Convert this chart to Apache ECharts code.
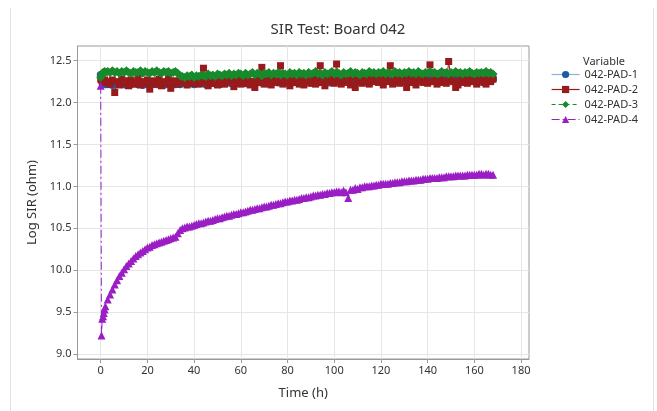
<!DOCTYPE html>
<html>
<head>
<meta charset="utf-8">
<script src="https://cdn.jsdelivr.net/npm/echarts@6/dist/echarts.min.js"></script>
<style>html,body{margin:0;padding:0;background:#fff;}#chart{width:657px;height:411px;}</style>
</head>
<body>
<div id="chart"></div>
<script>
var timesH = [0,0.33,0.67,1,1.33,1.67,2,
3,4,5,6,7,8,9,10,11,12,
13,14,15,16,17,18,19,20,21,22,
23,24,25,26,27,28,29,30,31,32,
33,34,35,36,37,38,39,40,41,42,
43,44,45,46,47,48,49,50,51,52,
53,54,55,56,57,58,59,60,61,62,
63,64,65,66,67,68,69,70,71,72,
73,74,75,76,77,78,79,80,81,82,
83,84,85,86,87,88,89,90,91,92,
93,94,95,96,97,98,99,100,101,102,
103,104,105,106,107,108,109,110,111,112,
113,114,115,116,117,118,119,120,121,122,
123,124,125,126,127,128,129,130,131,132,
133,134,135,136,137,138,139,140,141,142,
143,144,145,146,147,148,149,150,151,152,
153,154,155,156,157,158,159,160,161,162,
163,164,165,166,167,168];

var pad1 = [12.33,12.30,12.26,12.24,12.23,12.23,12.22,
12.22,12.23,12.21,12.23,12.22,12.24,12.22,12.23,12.21,12.23,
12.22,12.24,12.23,12.22,12.23,12.21,12.23,12.22,12.24,12.22,
12.23,12.22,12.24,12.23,12.21,12.23,12.22,12.24,12.23,12.22,
12.23,12.22,12.24,12.23,12.22,12.24,12.23,12.22,12.24,12.23,
12.24,12.23,12.22,12.24,12.23,12.25,12.23,12.24,12.22,12.24,
12.23,12.25,12.24,12.23,12.25,12.24,12.23,12.25,12.24,12.23,
12.25,12.24,12.23,12.25,12.24,12.26,12.24,12.25,12.23,12.25,
12.24,12.26,12.25,12.24,12.26,12.25,12.24,12.26,12.25,12.24,
12.26,12.25,12.24,12.26,12.25,12.27,12.25,12.24,12.26,12.25,
12.24,12.26,12.25,12.27,12.25,12.24,12.26,12.25,12.27,12.25,
12.26,12.25,12.27,12.26,12.25,12.27,12.26,12.25,12.27,12.26,
12.25,12.27,12.26,12.25,12.27,12.26,12.28,12.26,12.25,12.27,
12.26,12.28,12.26,12.25,12.27,12.26,12.28,12.27,12.26,12.28,
12.27,12.26,12.28,12.27,12.26,12.28,12.27,12.26,12.28,12.27,
12.26,12.28,12.27,12.29,12.27,12.26,12.28,12.27,12.29,12.27,
12.26,12.28,12.27,12.29,12.27,12.28,12.26,12.28,12.27,12.29,
12.27,12.28,12.26,12.28,12.27,12.28];

var pad2 = [12.28,12.27,12.25,12.26,12.24,12.27,12.25,
12.24,12.22,12.27,12.12,12.25,12.21,12.28,12.23,12.26,12.20,
12.27,12.24,12.22,12.29,12.21,12.25,12.23,12.27,12.16,12.24,
12.26,12.22,12.28,12.20,12.25,12.23,12.29,12.17,12.24,12.26,
12.22,12.27,12.30,12.24,12.21,12.28,12.25,12.23,12.29,12.22,
12.26,12.41,12.24,12.20,12.28,12.23,12.26,12.21,12.29,12.24,
12.22,12.27,12.25,12.30,12.19,12.24,12.28,12.22,12.26,12.23,
12.29,12.21,12.25,12.18,12.27,12.24,12.42,12.22,12.28,12.25,
12.21,12.29,12.24,12.26,12.44,12.22,12.27,12.25,12.20,12.28,
12.24,12.30,12.22,12.26,12.21,12.28,12.25,12.23,12.29,12.22,
12.27,12.44,12.24,12.20,12.28,12.25,12.31,12.23,12.46,12.26,
12.22,12.29,12.24,12.27,12.21,12.30,12.18,12.25,12.28,12.23,
12.26,12.31,12.22,12.28,12.25,12.33,12.24,12.27,12.21,12.29,
12.25,12.44,12.22,12.30,12.26,12.23,12.28,12.25,12.18,12.32,
12.24,12.27,12.21,12.30,12.26,12.24,12.28,12.23,12.45,12.25,
12.31,12.22,12.27,12.24,12.26,12.23,12.49,12.28,12.25,12.18,
12.21,12.28,12.24,12.30,12.23,12.27,12.25,12.32,12.22,12.26,
12.29,12.24,12.22,12.27,12.25,12.28];

var pad3 = [12.30,12.33,12.35,12.36,12.36,12.37,12.36,
12.37,12.36,12.38,12.36,12.37,12.35,12.37,12.36,12.38,12.36,
12.35,12.37,12.36,12.36,12.38,12.35,12.37,12.36,12.35,12.37,
12.36,12.38,12.36,12.35,12.37,12.36,12.37,12.35,12.36,12.37,
12.35,12.32,12.31,12.30,12.32,12.31,12.33,12.30,12.32,12.31,
12.33,12.32,12.31,12.34,12.32,12.33,12.31,12.34,12.33,12.32,
12.34,12.33,12.35,12.32,12.34,12.33,12.35,12.34,12.32,12.35,
12.33,12.34,12.36,12.33,12.35,12.34,12.32,12.35,12.34,12.36,
12.33,12.35,12.34,12.36,12.33,12.35,12.34,12.33,12.36,12.34,
12.35,12.33,12.36,12.34,12.35,12.33,12.36,12.34,12.35,12.37,
12.34,12.35,12.33,12.36,12.34,12.35,12.37,12.34,12.36,12.35,
12.33,12.36,12.34,12.35,12.37,12.34,12.36,12.35,12.33,12.36,
12.35,12.34,12.37,12.35,12.36,12.34,12.36,12.35,12.37,12.34,
12.36,12.35,12.34,12.37,12.35,12.36,12.34,12.36,12.35,12.37,
12.35,12.36,12.34,12.37,12.35,12.34,12.36,12.35,12.37,12.35,
12.36,12.34,12.35,12.37,12.35,12.36,12.34,12.36,12.35,12.37,
12.35,12.36,12.34,12.36,12.35,12.37,12.35,12.34,12.36,12.35,
12.36,12.35,12.37,12.35,12.36,12.34];

var pad4 = [12.20,9.22,9.42,9.45,9.49,9.53,9.57,
9.65,9.71,9.77,9.83,9.88,9.93,9.97,10.01,10.05,10.08,
10.11,10.14,10.17,10.19,10.21,10.23,10.25,10.27,10.28,10.30,
10.31,10.32,10.33,10.34,10.35,10.36,10.37,10.38,10.39,10.40,
10.44,10.48,10.50,10.51,10.52,10.52,10.53,10.54,10.55,10.56,
10.56,10.57,10.58,10.59,10.59,10.60,10.61,10.62,10.62,10.63,
10.64,10.65,10.65,10.66,10.67,10.67,10.68,10.69,10.69,10.70,
10.71,10.72,10.72,10.73,10.74,10.74,10.75,10.76,10.76,10.77,
10.78,10.78,10.79,10.80,10.80,10.81,10.82,10.82,10.83,10.83,
10.84,10.84,10.85,10.86,10.86,10.87,10.87,10.88,10.89,10.89,
10.90,10.90,10.91,10.91,10.92,10.92,10.93,10.93,10.94,10.94,
10.93,10.95,10.93,10.86,10.96,10.96,10.98,10.97,10.99,10.99,
11.00,11.00,11.00,11.01,11.01,11.02,11.02,11.03,11.03,11.03,
11.03,11.04,11.04,11.05,11.05,11.05,11.06,11.06,11.06,11.07,
11.07,11.07,11.08,11.08,11.08,11.09,11.09,11.09,11.10,11.10,
11.10,11.10,11.11,11.11,11.11,11.12,11.12,11.12,11.12,11.13,
11.13,11.13,11.13,11.13,11.14,11.14,11.14,11.14,11.14,11.15,
11.15,11.14,11.15,11.15,11.14,11.14];

var xTicks = [0,20,40,60,80,100,120,140,160,180];
var yTicks = [9.0,9.5,10.0,10.5,11.0,11.5,12.0,12.5];
var seriesNames = ['042-PAD-1','042-PAD-2','042-PAD-3','042-PAD-4'];
var markerColors = ['#1f5aa6','#981a1a','#188a2c','#9a1ec4'];
var lineColors = ['#8fb1db','#981a1a','#188a2c','#9a1ec4'];

function pairs(vals){ return timesH.map(function(t,i){ return [t, vals[i]]; }); }

var FONT = 'Noto Sans';
var chart = echarts.init(document.getElementById('chart'), null, {renderer:'canvas'});
chart.setOption({
  animation: false,
  backgroundColor: '#ffffff',
  textStyle: {fontFamily: FONT},
  title: [
    {text: 'SIR Test: Board 042', left: 333, top: 17, textAlign: 'center',
     textStyle: {fontFamily: FONT, fontSize: 15, fontWeight: 'normal', color: '#333333'}},
    {text: 'Variable', left: 599, top: 51, textAlign: 'center',
     textStyle: {fontFamily: FONT, fontSize: 11, fontWeight: 'normal', color: '#333333'}}
  ],
  legend: {
    orient: 'vertical', left: 546, top: 64,
    itemWidth: 28, itemHeight: 9, itemGap: 4,
    lineStyle: {width: 1.2},
    textStyle: {fontFamily: FONT, fontSize: 11, color: '#333333'},
    data: seriesNames
  },
  graphic: [
    {type: 'line', shape: {x1: 10.5, y1: 8, x2: 10.5, y2: 411}, style: {stroke: '#e2e2e2', lineWidth: 1}, silent: true},
    {type: 'line', shape: {x1: 653.5, y1: 8, x2: 653.5, y2: 411}, style: {stroke: '#e2e2e2', lineWidth: 1}, silent: true}
  ],
  grid: {left: 77.5, right: 128, top: 46, bottom: 52, show: true, borderColor: '#9a9a9a', borderWidth: 1, backgroundColor: 'transparent'},
  xAxis: {
    type: 'value', min: -9.94, max: 183.4,
    name: 'Time (h)', nameLocation: 'middle', nameGap: 28,
    nameTextStyle: {fontFamily: FONT, fontSize: 13, color: '#333333'},
    axisLine: {show: true, onZero: false, lineStyle: {color: '#9a9a9a'}},
    axisTick: {show: true, length: 4, customValues: xTicks, lineStyle: {color: '#9a9a9a'}},
    axisLabel: {customValues: xTicks, fontFamily: FONT, fontSize: 11, color: '#333333', margin: 6},
    splitLine: {show: true, lineStyle: {color: '#e6e6e6'}}
  },
  yAxis: {
    type: 'value', min: 8.94, max: 12.675,
    name: 'Log SIR (ohm)', nameLocation: 'middle', nameGap: 33,
    nameTextStyle: {fontFamily: FONT, fontSize: 13, color: '#333333'},
    axisLine: {show: true, onZero: false, lineStyle: {color: '#9a9a9a'}},
    axisTick: {show: true, length: 4, customValues: yTicks, lineStyle: {color: '#9a9a9a'}},
    axisLabel: {customValues: yTicks, fontFamily: FONT, fontSize: 11, color: '#333333', margin: 6,
      formatter: function(v){ return v.toFixed(1); }},
    splitLine: {show: true, lineStyle: {color: '#e6e6e6'}}
  },
  series: [
    {name: seriesNames[0], type: 'line', data: pairs(pad1), symbol: 'circle', symbolSize: 8,
     itemStyle: {color: markerColors[0]}, lineStyle: {color: lineColors[0], width: 1.5, type: 'solid'}},
    {name: seriesNames[1], type: 'line', data: pairs(pad2), symbol: 'rect', symbolSize: 7,
     itemStyle: {color: markerColors[1]}, lineStyle: {color: lineColors[1], width: 1, type: 'solid'}},
    {name: seriesNames[2], type: 'line', data: pairs(pad3), symbol: 'diamond', symbolSize: 9,
     itemStyle: {color: markerColors[2]}, lineStyle: {color: lineColors[2], width: 1, type: [4, 3]}},
    {name: seriesNames[3], type: 'line', data: pairs(pad4), symbol: 'triangle', symbolSize: 8,
     itemStyle: {color: markerColors[3]}, lineStyle: {color: lineColors[3], width: 1, type: [8, 3, 2, 3]}}
  ]
});
</script>
</body>
</html>
